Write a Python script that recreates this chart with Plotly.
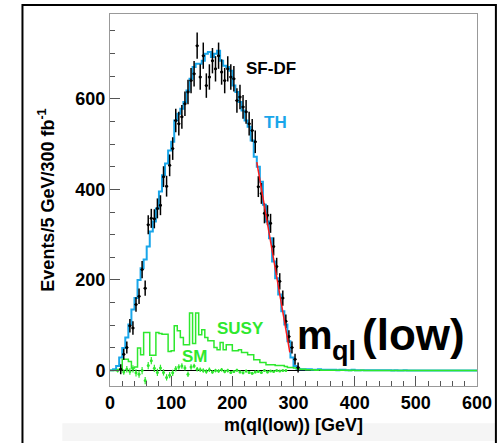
import numpy as np
import plotly.graph_objects as go

# ---------------- data ----------------
bin_edges = np.arange(0, 605, 5)          # 5 GeV bins, 0-600 GeV
bin_centers = bin_edges[:-1] + 2.5

th_values = [1, 3, 10, 29, 50, 73, 102, 135, 160, 200,
             226, 245, 274, 307, 329, 358, 395, 431, 457, 486,
             505, 552, 567, 578, 593, 618, 644, 670, 677, 677,
             684, 699, 703, 692, 699, 706, 684, 673, 670, 662,
             629, 615, 593, 574, 552, 538, 508, 472, 450, 417,
             366, 329, 292, 241, 204, 168, 131, 102, 65, 29,
             10, 4, 3, 3, 3, 3, 2, 2, 3, 2,
             2, 2, 2, 2, 1, 2, 2, 1, 1, 2,
             1, 1, 1, 1, 1, 1, 1, 1, 1, 1,
             1, 1, 0, 1, 0, 0, 1, 0, 0, 0,
             0, 0, 0, 0, 0, 0, 0, 0, 0, 0,
             0, 0, 0, 0, 0, 0, 0, 0, 0, 0]

susy_values = [0, 0, 1, 3, 25, 25, 20, 6, 8, 50,
               35, 84, 84, 34, 34, 84, 82, 80, 80, 42,
               44, 99, 88, 73, 57, 57, 127, 60, 127, 79,
               90, 73, 66, 66, 51, 46, 62, 46, 57, 57,
               44, 44, 46, 40, 40, 35, 35, 24, 24, 18,
               18, 13, 13, 13, 11, 11, 11, 9, 7, 7,
               6, 4, 3, 3, 2, 2, 2, 1, 2, 1,
               1, 1, 1, 1, 1, 1, 1, 1, 0, 1,
               0, 0, 1, 0, 0, 0, 0, 0, 0, 0,
               0, 0, 0, 0, 0, 0, 0, 0, 0, 0,
               0, 0, 0, 0, 0, 0, 0, 0, 0, 0,
               0, 0, 0, 0, 0, 0, 0, 0, 0, 0]

# SF-DF data points, bins 3..61 (17.5 - 307.5 GeV)
sfdf_first_bin = 3
sfdf_values = [3, 36, 51, 99, 94, 146, 164, 223, 182, 322,
               336, 335, 358, 365, 428, 407, 453, 490, 552, 545,
               560, 589, 615, 640, 655, 717, 648, 695, 629, 648,
               684, 666, 695, 659, 640, 666, 648, 644, 596, 604,
               582, 571, 545, 530, 505, 406, 391, 347, 343, 325,
               274, 230, 197, 160, 109, 75, 51, 25, 7]
sfdf_errors = [11, 12, 13, 15, 15, 16, 17, 19, 17, 21,
               21, 21, 22, 22, 23, 23, 24, 25, 26, 26,
               26, 27, 27, 28, 28, 29, 28, 29, 27, 28,
               28, 28, 29, 28, 28, 28, 28, 28, 27, 27,
               26, 26, 26, 25, 25, 23, 23, 22, 22, 21,
               20, 19, 18, 17, 15, 14, 13, 12, 11]

# SM points, bins 2..57
sm_first_bin = 2
sm_values = [0, 2, -3, 3, -2, 4, -5, -8, 0, -22,
             11, 22, 5, -4, 6, -4, -15, -10, -5, 4,
             8, 10, 6, -8, 8, 10, 3, 2, 0, -2,
             2, -3, 0, -1, 2, -2, 0, -4, -2, 1,
             -3, -5, -1, -4, -6, -3, -2, -4, 0, -3,
             -1, -2, 0, -1, 0, 0]
sm_errors = [4, 6, 6, 7, 7, 8, 8, 8, 8, 8,
             8, 8, 8, 8, 7, 7, 7, 7, 7, 6,
             6, 6, 6, 6, 6, 5, 5, 5, 5, 5,
             5, 4, 4, 4, 4, 4, 4, 3, 3, 3,
             3, 3, 3, 3, 3, 3, 3, 3, 3, 3,
             2, 2, 2, 2, 2, 2]

fit_x = [240, 294]
fit_y = [460, 40]

x_ticks = [0, 100, 200, 300, 400, 500, 600]
y_ticks = [0, 200, 400, 600]

# ---------------- figure ----------------
FONT = "Liberation Sans, Arial, sans-serif"
BLUE = "#19a6ea"
GREEN = "#2ee82e"


def step_xy(vals):
    return list(bin_edges), list(vals) + [vals[-1]]


fig = go.Figure()

sx, sy = step_xy(th_values)
fig.add_trace(go.Scatter(x=sx, y=sy, mode="lines", line=dict(color=BLUE, width=2, shape="hv"),
                         hoverinfo="skip"))

sx, sy = step_xy(susy_values)
fig.add_trace(go.Scatter(x=sx, y=sy, mode="lines", line=dict(color=GREEN, width=1.5, shape="hv"),
                         hoverinfo="skip"))

sm_x = list(bin_centers[sm_first_bin:sm_first_bin + len(sm_values)])
fig.add_trace(go.Scatter(x=sm_x, y=sm_values, mode="markers",
                         marker=dict(color=GREEN, size=3),
                         error_y=dict(type="data", array=sm_errors, color=GREEN, thickness=1.2, width=0),
                         error_x=dict(type="constant", value=1.5, color=GREEN, thickness=1, width=0)))

d_x = list(bin_centers[sfdf_first_bin:sfdf_first_bin + len(sfdf_values)])
fig.add_trace(go.Scatter(x=d_x, y=sfdf_values, mode="markers",
                         marker=dict(color="black", size=3),
                         error_y=dict(type="data", array=sfdf_errors, color="black", thickness=1.5, width=0),
                         error_x=dict(type="constant", value=2.5, color="black", thickness=1, width=0)))

fig.add_trace(go.Scatter(x=fit_x, y=fit_y, mode="lines", line=dict(color="#ff1a1a", width=1.5)))

axis_common = dict(
    showgrid=False, ticks="inside", ticklen=10, tickcolor="#555", tickwidth=1,
    showline=True, linecolor="#999", linewidth=1, mirror=True,
    tickfont=dict(family=FONT, size=18, color="black", weight="bold"),
)

fig.update_layout(
    width=504, height=443,
    margin=dict(l=110, r=25, t=14, b=55),
    paper_bgcolor="white", plot_bgcolor="white",
    showlegend=False,
    font=dict(family=FONT),
    xaxis=dict(range=[0, 600], tickvals=x_ticks, zeroline=False,
               minor=dict(dtick=20, ticklen=5, ticks="inside", tickcolor="#555"),
               title=dict(text="m(ql(low)) [GeV]", standoff=6,
                          font=dict(family=FONT, size=18, color="black", weight="bold")),
               **axis_common),
    yaxis=dict(range=[-34, 787], tickvals=y_ticks, zeroline=True, zerolinecolor="black", zerolinewidth=1,
               minor=dict(dtick=50, ticklen=5, ticks="inside", tickcolor="#555"),
               title=dict(text="Events/5 GeV/300 fb<sup>-1</sup>", standoff=16,
                          font=dict(family=FONT, size=18, color="black", weight="bold")),
               **axis_common),
)

# outer page frame and faint bottom band
fig.add_shape(type="rect", xref="paper", yref="paper", x0=-0.13, x1=1.05, y0=-0.148, y1=-0.1,
              fillcolor="#f5f5f5", line=dict(width=0), layer="below")
fig.add_shape(type="rect", xref="paper", yref="paper", x0=-0.2385, x1=1.0515, y0=-0.16, y1=1.024,
              line=dict(color="black", width=2), fillcolor="rgba(0,0,0,0)")

ann = [
    dict(text="<b>SF-DF</b>", x=219, y=667, color="black", size=17, xanchor="left"),
    dict(text="<b>TH</b>", x=249, y=548, color=BLUE, size=17, xanchor="left"),
    dict(text="<b>SUSY</b>", x=171, y=94, color=GREEN, size=17, xanchor="left"),
    dict(text="<b>SM</b>", x=114, y=32, color=GREEN, size=17, xanchor="left"),
    dict(text="<b>m</b>", x=302, y=78, color="black", size=40, xanchor="left"),
    dict(text="<b>ql</b>", x=360, y=43, color="black", size=27, xanchor="left"),
    dict(text="<b>(low)</b>", x=409, y=80, color="black", size=44, xanchor="left"),
]
for a in ann:
    fig.add_annotation(text=a["text"], x=a["x"], y=a["y"], xref="x", yref="y",
                       xanchor=a["xanchor"], yanchor="middle", showarrow=False,
                       font=dict(family=FONT, size=a["size"], color=a["color"]))

fig.write_html("out.html")
